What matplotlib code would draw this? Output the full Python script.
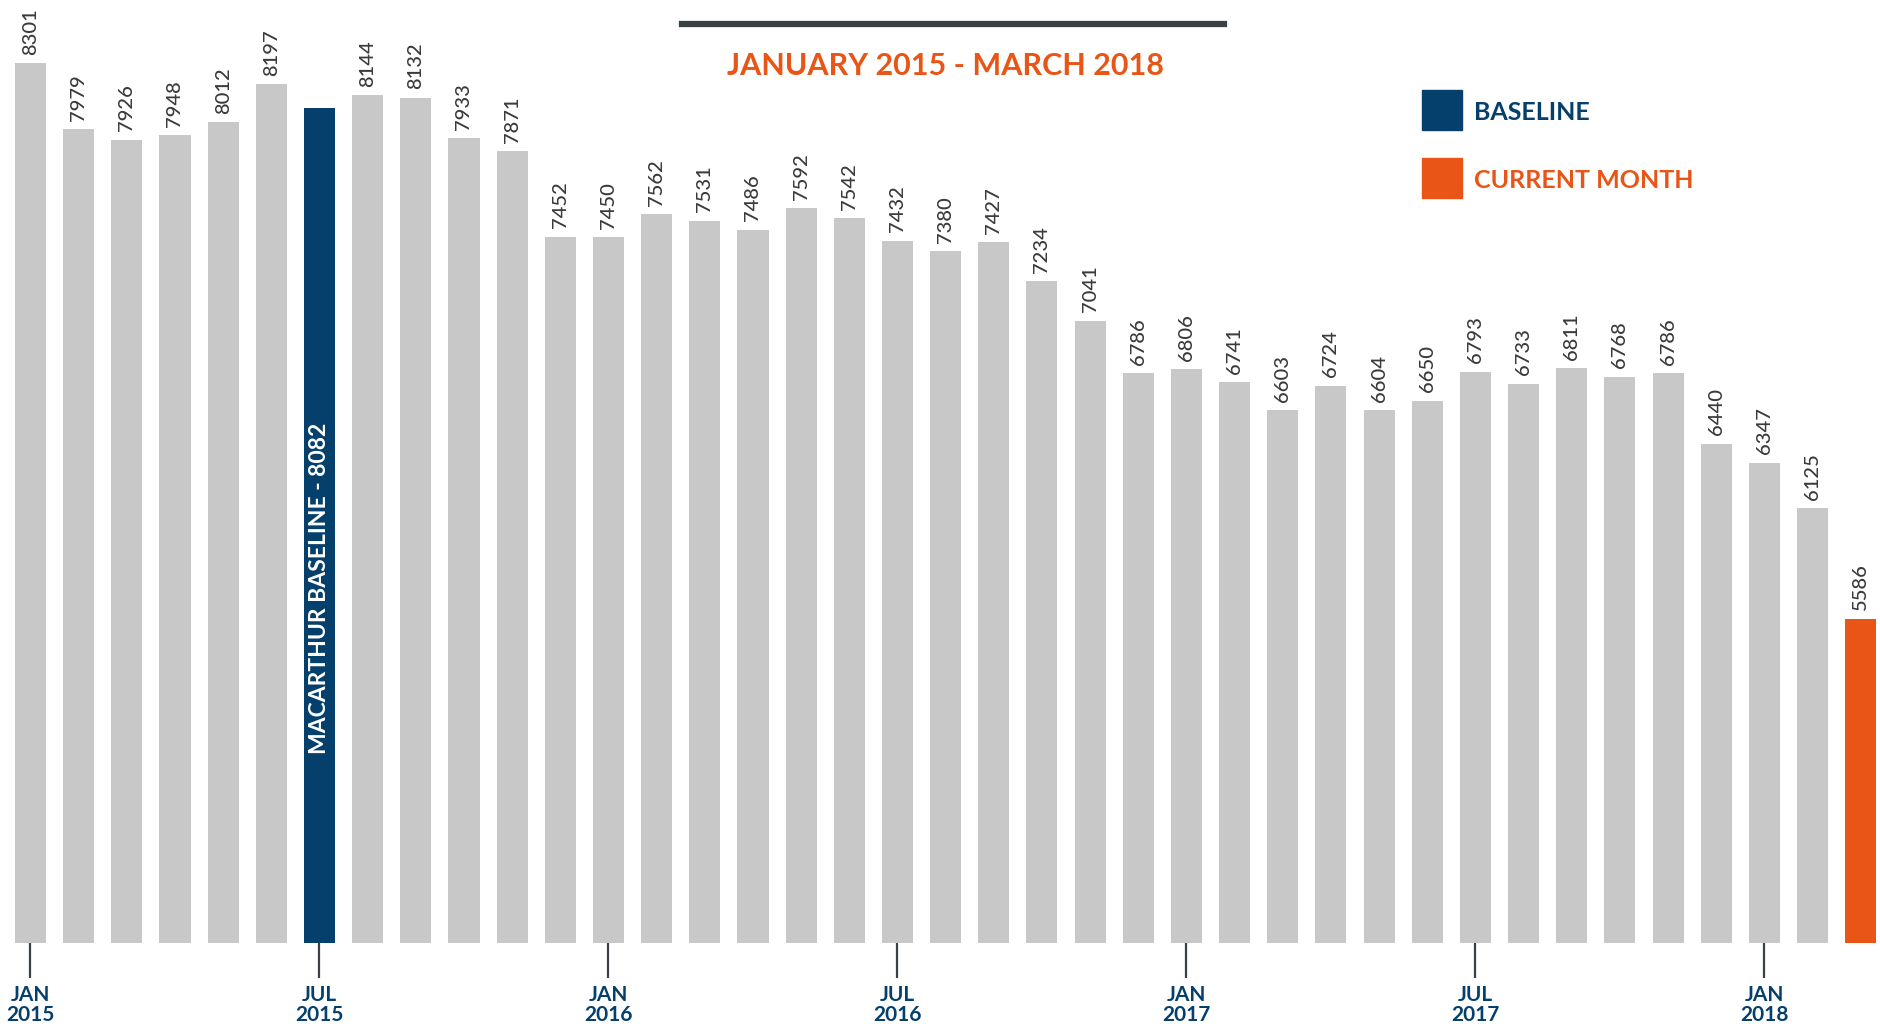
import numpy as np
import matplotlib
matplotlib.use("Agg")
import matplotlib.pyplot as plt
from matplotlib.patches import Rectangle
from matplotlib.lines import Line2D

# monthly counts, Jan 2015 .. Mar 2018
values = [8301, 7979, 7926, 7948, 8012, 8197, 8082, 8144, 8132, 7933, 7871, 7452,
          7450, 7562, 7531, 7486, 7592, 7542, 7432, 7380, 7427, 7234, 7041, 6786,
          6806, 6741, 6603, 6724, 6604, 6650, 6793, 6733, 6811, 6768, 6786, 6440,
          6347, 6125, 5586]
tick_pos = [0, 6, 12, 18, 24, 30, 36]
tick_labels = ["JAN\n2015", "JUL\n2015", "JAN\n2016", "JUL\n2016",
               "JAN\n2017", "JUL\n2017", "JAN\n2018"]
baseline_idx = 6
current_idx = len(values) - 1
subtitle = "JANUARY 2015 - MARCH 2018"

GRAY = "#c8c8c8"
NAVY = "#053f6b"
ORANGE = "#e85516"
DARK = "#3b4045"
TEXT = "#3a3a3a"

plt.rcParams["font.family"] = ["Lato", "DejaVu Sans"]

W, H = 1881, 1029
fig = plt.figure(figsize=(W / 100, H / 100), dpi=100)
ax = fig.add_axes([0, (H - 943) / H, 1, 943 / H])

x = np.arange(len(values))
colors = [GRAY] * len(values)
colors[baseline_idx] = NAVY
colors[current_idx] = ORANGE
ax.bar(x, values, width=0.645, color=colors, zorder=2)

ax.set_xlim(-0.633, 38.42)
ax.set_ylim(4000, 8609)

for i, v in enumerate(values):
    if i == baseline_idx:
        ax.text(i, 5735, f"MACARTHUR BASELINE - {v}", rotation=90, ha="center",
                va="center", color="white", fontsize=16.5, fontweight="bold")
        continue
    ax.annotate(str(v), (i, v), xytext=(0, 6), textcoords="offset points",
                rotation=90, ha="center", va="bottom", color=TEXT, fontsize=14.5,
                fontweight="medium")

for s in ax.spines.values():
    s.set_visible(False)
ax.set_yticks([])
ax.set_xticks(tick_pos)
ax.set_xticklabels(tick_labels, color=NAVY, fontsize=15, fontweight="bold",
                   linespacing=1.0)
ax.tick_params(axis="x", length=25, width=1.6, color=DARK, pad=5)

# header
fig.add_artist(Line2D([682 / W, 1224 / W], [1 - 24 / H] * 2, color=DARK, lw=4.5))
fig.text(946 / W, 1 - 66 / H, subtitle, ha="center", va="center",
         color=ORANGE, fontsize=22, fontweight="bold")

# legend
for (y0, c, lab) in [(90, NAVY, "BASELINE"), (158, ORANGE, "CURRENT MONTH")]:
    fig.add_artist(Rectangle((1422 / W, 1 - (y0 + 40) / H), 40 / W, 40 / H,
                             color=c, transform=fig.transFigure))
    fig.text(1474 / W, 1 - (y0 + 22) / H, lab, ha="left", va="center",
             color=c, fontsize=18, fontweight="bold")

fig.savefig("out.png", dpi=100)
